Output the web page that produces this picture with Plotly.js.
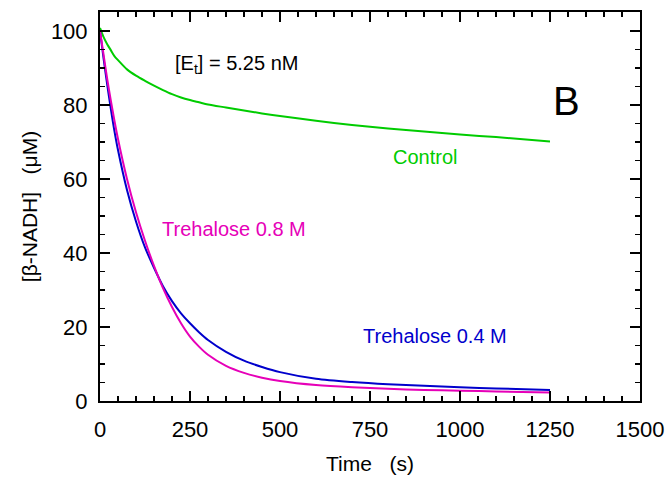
<!DOCTYPE html>
<html>
<head>
<meta charset="utf-8">
<script src="https://cdn.plot.ly/plotly-3.0.1.min.js"></script>
<style>html,body{margin:0;padding:0;background:#fff}#chart{width:669px;height:481px}</style>
</head>
<body>
<div id="chart"></div>
<script>
var timeS = [0, 10, 20, 30, 40, 50, 75, 100, 125, 150, 175, 200, 225, 250, 275, 300, 350, 400, 450, 500, 600, 700, 800, 900, 1000, 1100, 1250];
var control = [100.8, 98.3, 96.4, 94.8, 93.2, 92.1, 89.6, 87.9, 86.5, 85.2, 84.0, 82.9, 82.0, 81.3, 80.7, 80.1, 79.3, 78.5, 77.7, 77.0, 75.7, 74.6, 73.6, 72.8, 72.0, 71.3, 70.1];
var treh08 = [100, 93.5, 87, 81.2, 75.8, 70.8, 60, 51, 43.3, 36.5, 30.5, 25.4, 21.0, 17.4, 14.7, 12.5, 9.5, 7.6, 6.3, 5.4, 4.3, 3.7, 3.3, 3.0, 2.8, 2.6, 2.3];
var treh04 = [100, 92.5, 85.5, 79, 73, 67.8, 57, 48.5, 41.5, 36, 31, 27, 23.7, 21, 18.6, 16.5, 13.3, 10.9, 9.2, 7.8, 6.0, 5.1, 4.5, 4.1, 3.7, 3.4, 3.0];

var font = "Liberation Sans, Arial, sans-serif";
var traces = [
  {x: timeS, y: control, mode: 'lines', line: {color: '#00cc00', width: 2, shape: 'spline', smoothing: 0.8}, name: 'Control'},
  {x: timeS, y: treh04, mode: 'lines', line: {color: '#0000cc', width: 2, shape: 'spline', smoothing: 0.8}, name: 'Trehalose 0.4 M'},
  {x: timeS, y: treh08, mode: 'lines', line: {color: '#e600b8', width: 2, shape: 'spline', smoothing: 0.8}, name: 'Trehalose 0.8 M'}
];
var layout = {
  width: 669, height: 481,
  margin: {l: 100, r: 29, t: 12, b: 80},
  showlegend: false,
  paper_bgcolor: '#fff', plot_bgcolor: '#fff',
  font: {family: font, color: '#000'},
  xaxis: {
    range: [0, 1500], tickvals: [0, 250, 500, 750, 1000, 1250, 1500],
    ticks: 'inside', ticklen: 10, tickwidth: 1.5, tickcolor: '#000',
    minor: {dtick: 50, tick0: 0, ticks: 'inside', ticklen: 5, tickwidth: 1.5, tickcolor: '#000'},
    showline: true, linecolor: '#000', linewidth: 2, mirror: 'ticks',
    showgrid: false, zeroline: false,
    ticklabelstandoff: 8,
    tickfont: {size: 22, family: font, color: '#000'},
    title: {text: 'Time&nbsp;&nbsp;&nbsp;(s)', font: {size: 21, family: font, color: '#000'}, standoff: 15}
  },
  yaxis: {
    range: [0, 105.1], tickvals: [0, 20, 40, 60, 80, 100],
    ticks: 'inside', ticklen: 10, tickwidth: 1.5, tickcolor: '#000',
    minor: {dtick: 5, tick0: 0, ticks: 'inside', ticklen: 5, tickwidth: 1.5, tickcolor: '#000'},
    showline: true, linecolor: '#000', linewidth: 2, mirror: 'ticks',
    showgrid: false, zeroline: false,
    ticklabelstandoff: 6,
    tickfont: {size: 22, family: font, color: '#000'},
    title: {text: '[β-NADH]&nbsp;&nbsp;&nbsp;(μM)', font: {size: 21, family: font, color: '#000'}, standoff: 8}
  },
  annotations: [
    {x: 378, y: 90.8, xref: 'x', yref: 'y', text: '[E<sub>t</sub>] = 5.25 nM', showarrow: false, font: {size: 20, family: font, color: '#000'}},
    {x: 1296, y: 81, xref: 'x', yref: 'y', text: 'B', showarrow: false, font: {size: 40, family: font, color: '#000'}},
    {x: 903, y: 66, xref: 'x', yref: 'y', text: 'Control', showarrow: false, font: {size: 20, family: font, color: '#00cc00'}},
    {x: 372, y: 46.5, xref: 'x', yref: 'y', text: 'Trehalose 0.8 M', showarrow: false, font: {size: 20, family: font, color: '#e600b8'}},
    {x: 930, y: 17.6, xref: 'x', yref: 'y', text: 'Trehalose 0.4 M', showarrow: false, font: {size: 20, family: font, color: '#0000cc'}}
  ]
};
Plotly.newPlot('chart', traces, layout, {displayModeBar: false, staticPlot: true});
</script>
</body>
</html>
